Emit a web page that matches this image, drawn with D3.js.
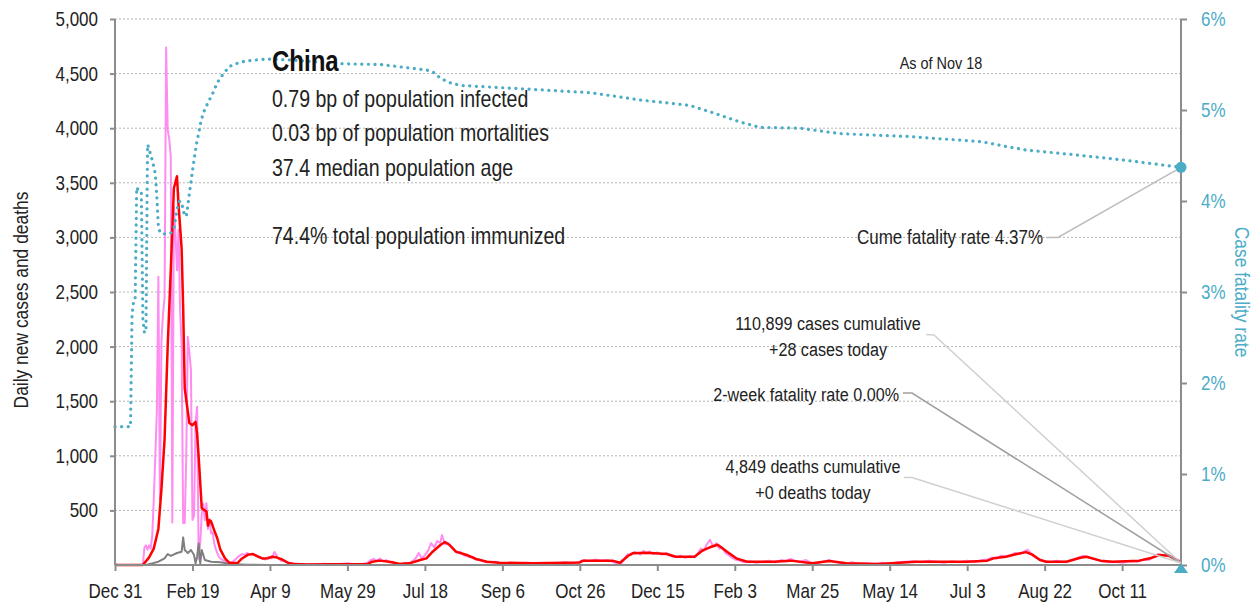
<!DOCTYPE html>
<html>
<head>
<meta charset="utf-8">
<script src="https://cdn.jsdelivr.net/npm/d3@7"></script>
<style>
body{margin:0;background:#fff;}
svg text{font-family:"Liberation Sans",Arial,sans-serif;fill:#222;}
</style>
</head>
<body>
<div id="content"></div>
<script>
//chart data. days counted from Dec 31 2019
var startDate=new Date(2019,11,31);
var lastDay=688;
var tickDays=[0,50,100,150,200,250,300,350,400,450,500,550,600,650];
var leftTicks=[500,1000,1500,2000,2500,3000,3500,4000,4500,5000];
var rightTicks=[0,1,2,3,4,5,6];

//daily new cases [day, cases]
var dailyCases=[[0,10],[2,0],[18,0],[19,160],[20,180],[21,140],[22,180],[23,150],[24,260],[25,590],[26,990],[27,1400],[28,2640],[29,595],[30,2060],[31,2300],[32,2450],[33,4740],[34,3990],[35,3900],[36,3740],[37,390],[38,3280],[39,3040],[40,2700],[41,3070],[42,2340],[43,2000],[44,385],[45,385],[46,1000],[47,2090],[48,1950],[49,1790],[50,412],[51,450],[52,1300],[53,1450],[54,50],[55,200],[56,470],[57,560],[58,410],[59,565],[60,330],[61,420],[62,290],[63,300],[64,200],[65,150],[66,110],[67,76],[68,60],[70,40],[72,37],[74,20],[76,30],[78,55],[80,82],[82,100],[84,90],[85,110],[87,95],[89,100],[91,90],[93,70],[95,64],[97,50],[99,75],[101,60],[103,119],[105,70],[107,40],[109,37],[111,20],[113,18],[115,15],[120,10],[125,5],[130,8],[135,12],[140,6],[145,10],[150,15],[155,8],[160,12],[163,20],[165,45],[167,55],[169,40],[171,60],[173,35],[175,45],[177,25],[179,30],[181,15],[184,10],[187,20],[190,15],[192,35],[194,60],[196,110],[198,60],[200,90],[202,130],[204,200],[206,160],[208,220],[210,200],[211,275],[213,190],[215,200],[217,160],[219,140],[221,110],[223,120],[225,90],[227,82],[229,70],[231,75],[233,50],[236,45],[240,25],[245,30],[250,15],[255,20],[260,12],[265,20],[270,15],[275,10],[280,18],[285,12],[290,25],[295,15],[300,30],[303,45],[306,35],[310,50],[314,40],[318,45],[321,30],[324,15],[327,20],[329,60],[331,100],[333,90],[335,120],[337,110],[339,95],[341,130],[343,105],[345,125],[347,100],[350,115],[353,95],[356,110],[359,80],[362,70],[365,85],[368,65],[371,80],[374,70],[376,100],[378,150],[380,130],[382,190],[384,230],[386,170],[388,200],[390,150],[392,160],[394,110],[396,90],[398,70],[400,50],[403,40],[406,25],[410,35],[414,20],[418,30],[422,40],[426,25],[430,45],[433,35],[436,55],[439,40],[442,30],[446,45],[450,15],[454,20],[458,35],[461,45],[464,30],[468,20],[472,15],[476,25],[480,10],[485,15],[490,8],[495,20],[500,12],[505,25],[510,30],[515,35],[520,25],[525,40],[530,30],[535,20],[540,35],[545,25],[550,40],[555,30],[560,45],[563,50],[566,70],[569,60],[572,85],[575,80],[578,90],[581,110],[584,100],[587,125],[589,140],[591,110],[594,70],[597,50],[600,35],[604,25],[608,40],[612,30],[616,35],[619,50],[622,70],[625,85],[628,70],[631,60],[634,45],[637,35],[641,25],[645,30],[650,20],[655,35],[660,30],[664,50],[667,45],[670,70],[673,100],[676,90],[679,95],[682,75],[685,55],[687,40],[688,28]];

//7-day average of new cases [day, cases]
var avgCases=[[0,0],[18,0],[22,70],[25,150],[28,330],[30,700],[32,1150],[34,2000],[36,2700],[38,3450],[40,3560],[41,3300],[43,2900],[44,2350],[45,1620],[46,1510],[48,1300],[50,1280],[52,1310],[53,1200],[54,990],[56,520],[59,490],[60,360],[61,410],[62,400],[64,320],[66,245],[68,140],[71,60],[74,18],[79,18],[82,60],[86,95],[89,100],[92,80],[95,60],[99,62],[101,75],[104,70],[108,50],[112,18],[115,10],[124,5],[140,8],[163,9],[166,30],[171,40],[177,30],[184,9],[190,15],[197,46],[201,61],[205,122],[210,183],[213,210],[216,183],[220,122],[227,92],[233,55],[240,30],[248,21],[270,15],[300,24],[302,40],[321,40],[326,21],[331,82],[334,107],[343,113],[356,101],[362,76],[374,76],[379,131],[384,162],[389,185],[395,122],[401,61],[408,30],[425,30],[436,40],[450,15],[461,37],[472,15],[493,9],[517,30],[550,30],[563,40],[567,61],[575,76],[582,101],[588,118],[592,95],[597,46],[601,30],[614,30],[623,67],[627,76],[636,40],[644,30],[661,40],[668,61],[674,92],[680,85],[685,46],[688,25]];

//daily deaths [day, deaths]
var dailyDeaths=[[0,0],[20,0],[24,15],[28,30],[32,61],[34,101],[36,83],[40,110],[43,122],[44,253],[45,137],[47,110],[49,137],[51,92],[52,15],[53,76],[54,198],[55,15],[56,137],[58,46],[62,30],[68,25],[75,10],[85,3],[100,0],[688,0]];

//cumulative case fatality rate in percent [day, pct]
var fatalityRate=[[0,1.52],[10,1.52],[11,2.75],[12,2.9],[13,2.92],[14,4.15],[15,4.12],[16,4.1],[17,4.1],[18,2.7],[19,2.55],[20,2.6],[21,4.62],[22,4.58],[23,4.5],[24,4.45],[25,4.38],[26,4.3],[27,4.05],[28,3.72],[29,3.66],[30,3.64],[32,3.64],[34,3.64],[36,3.65],[38,3.7],[39,3.8],[40,3.9],[41,3.98],[42,4.0],[43,3.98],[44,3.9],[45,3.84],[46,3.83],[47,3.95],[48,4.08],[49,4.2],[50,4.33],[51,4.45],[52,4.56],[53,4.67],[54,4.74],[55,4.84],[57,4.97],[60,5.08],[63,5.18],[66,5.3],[70,5.4],[74,5.48],[80,5.52],[85,5.54],[98,5.56],[113,5.55],[143,5.51],[171,5.5],[201,5.44],[205,5.42],[210,5.35],[216,5.3],[223,5.27],[266,5.23],[307,5.19],[339,5.11],[371,5.05],[384,4.98],[403,4.87],[416,4.81],[442,4.8],[468,4.74],[511,4.71],[560,4.65],[575,4.6],[588,4.56],[618,4.51],[651,4.45],[688,4.37]];

var twoWeekRate=0.00;
var infoLines=['0.79 bp of population infected','0.03 bp of population mortalities','37.4 median population age','','74.4% total population immunized'];

//layout
var svg_width=1258;
var svg_height=607;
var margin={top:19, right:77, bottom:42, left:115};
var chart_width=svg_width-margin.left-margin.right;
var chart_height=svg_height-margin.top-margin.bottom;
var squeeze=0.85; //no narrow font installed, so text is squeezed sideways
var teal='#4bacc6';
var pink='#ff8cf0';
var red='#ff0000';
var grey='#7f7f7f';
var axisGrey='#8c8c8c';

function toDate(day){ return d3.timeDay.offset(startDate, day); }

var svg=d3.select('#content').append('svg').attr('width',svg_width).attr('height',svg_height);
var g=svg.append('g').attr('transform','translate('+margin.left+','+margin.top+')');

var xScale=d3.scaleTime().domain([toDate(0),toDate(lastDay)]).range([0,chart_width]);
var yScale=d3.scaleLinear().domain([0,5000]).range([chart_height,0]);
var rScale=d3.scaleLinear().domain([0,6]).range([chart_height,0]);

//dotted gridlines
g.selectAll('.grid').data(leftTicks).enter().append('line')
	.attr('x1',0).attr('x2',chart_width)
	.attr('y1',function(d){return yScale(d);}).attr('y2',function(d){return yScale(d);})
	.style('stroke','#b4b4b4').style('stroke-width',1).style('stroke-dasharray','2,2');

function drawLine(data, scale, color, width){
	var line=d3.line()
		.x(function(d){return xScale(toDate(d[0]));})
		.y(function(d){return scale(d[1]);});
	return g.append('path').datum(data).attr('d',line)
		.style('fill','none').style('stroke',color).style('stroke-width',width)
		.style('stroke-linejoin','round');
}

drawLine(dailyCases, yScale, pink, 2);
drawLine(dailyDeaths, yScale, grey, 2);
drawLine(avgCases, yScale, red, 2.5);
drawLine(fatalityRate, rScale, teal, 3.2)
	.style('stroke-dasharray','0.1,6.5').style('stroke-linecap','round');

//axes
var xAxis=g.append('g').attr('class','axis').attr('transform','translate(0,'+chart_height+')')
	.call(d3.axisBottom(xScale).tickValues(tickDays.map(toDate)).tickFormat(d3.timeFormat('%b %-d')).tickSize(6).tickPadding(13));
var yAxis=g.append('g').attr('class','axis')
	.call(d3.axisLeft(yScale).tickValues(leftTicks).tickFormat(d3.format(',')).tickSize(5).tickPadding(15));
var rAxis=g.append('g').attr('class','axis raxis').attr('transform','translate('+chart_width+',0)')
	.call(d3.axisRight(rScale).tickValues(rightTicks).tickFormat(function(d){return d+'%';}).tickSize(6).tickPadding(17.5));

g.selectAll('.axis .domain').remove();
g.selectAll('.axis line').style('stroke',axisGrey).style('stroke-width',2);
g.selectAll('.axis text').style('font-size','20px').style('fill','#222').attr('transform','scale('+squeeze+',1)');
rAxis.selectAll('text').style('fill',teal);

//axis lines
g.append('line').attr('x1',0).attr('x2',0).attr('y1',0).attr('y2',chart_height).style('stroke',axisGrey).style('stroke-width',2);
g.append('line').attr('x1',chart_width).attr('x2',chart_width).attr('y1',0).attr('y2',chart_height).style('stroke',axisGrey).style('stroke-width',2);
g.append('line').attr('x1',0).attr('x2',chart_width).attr('y1',chart_height).attr('y2',chart_height).style('stroke',axisGrey).style('stroke-width',2);

//text helper, squeezed horizontally
function note(x,y,anchor,txt,size,rot){
	return svg.append('text')
		.attr('transform','translate('+x+','+y+')'+(rot?' rotate('+rot+')':'')+' scale('+squeeze+',1)')
		.attr('text-anchor',anchor).style('font-size',(size||19)+'px').text(txt);
}

//axis labels
note(28,300,'middle','Daily new cases and deaths',20.5,-90);
note(1235,292,'middle','Case fatality rate',20.5,90).style('fill',teal);

//end markers
var endX=xScale(toDate(lastDay));
var endRate=fatalityRate[fatalityRate.length-1][1];
var endY=rScale(endRate);
var zeroY=rScale(twoWeekRate);

//leader lines
function leader(pts, color){
	g.append('path').attr('d',d3.line()(pts)).style('fill','none').style('stroke',color).style('stroke-width',1.5);
}
leader([[1046-margin.left,237.5-margin.top],[1058-margin.left,237.5-margin.top],[endX,endY]],'#bdbdbd');
leader([[926-margin.left,334.5-margin.top],[934-margin.left,335-margin.top],[endX,zeroY-2]],'#d0d0d0');
leader([[903-margin.left,393-margin.top],[912-margin.left,393-margin.top],[endX,zeroY-2]],'#a0a0a0');
leader([[904-margin.left,477.5-margin.top],[912-margin.left,477.5-margin.top],[endX,zeroY-2]],'#d0d0d0');

g.append('circle').attr('cx',endX).attr('cy',endY).attr('r',5.5).style('fill',teal);
g.append('path').attr('d','M'+endX+','+(zeroY-2)+'L'+(endX+7)+','+(zeroY+8)+'L'+(endX-7)+','+(zeroY+8)+'Z').style('fill',teal);

//annotation texts
note(1043,244,'end','Cume fatality rate '+endRate.toFixed(2)+'%',20);
note(828,330,'middle','110,899 cases cumulative');
note(828,356,'middle','+28 cases today');
note(899,401,'end','2-week fatality rate '+twoWeekRate.toFixed(2)+'%');
note(813,473,'middle','4,849 deaths cumulative');
note(813,499,'middle','+0 deaths today');
note(941,69,'middle','As of Nov 18',17);

//info block
svg.append('text').attr('transform','translate(272,71) scale(0.8,1)')
	.style('font-size','30px').style('font-weight','bold').style('fill','#111').text('China');
infoLines.forEach(function(d,i){ note(272,107+i*34.3,'start',d,23); });
</script>
</body>
</html>
